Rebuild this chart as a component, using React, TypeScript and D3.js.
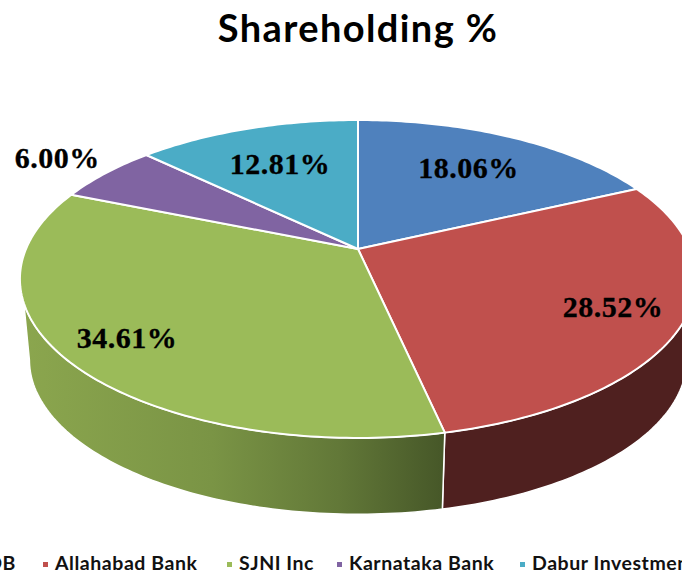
import React from "react";
import * as d3 from "d3";

const categories = ["IDB", "Allahabad Bank", "SJNI Inc", "Karnataka Bank", "Dabur Investments"];
const shares = [18.06, 28.52, 34.61, 6.0, 12.81];
const colors = ["#4f81bd", "#c0504d", "#9bbb59", "#8064a2", "#4bacc6"];
const labelRadii = [0.687, 0.8, 0.818, 1.217, 0.67];
const legendTextX = [16, 55, 239, 349, 532];

const W = 682, H = 571;
const CX = 358, CY = 249, A = 332, B = 153.3, K = 0.1887;
const DEPTH = 81.6, BOTTOM_SCALE = 0.972;

// Perspective projection of a unit disc; theta is clockwise from 12 o'clock.
function project(theta: number, r = 1, lower = false): [number, number] {
  const u = r * Math.sin(theta), v = -r * Math.cos(theta);
  const w = 1 - K * v;
  const s = lower ? BOTTOM_SCALE : 1;
  return [CX + (s * A * u) / w, CY + (lower ? DEPTH : 0) + (s * B * v) / w];
}

const arcs = d3.pie<number>().sort(null)(shares);
const line = d3.line();
const rad = (deg: number) => (deg * Math.PI) / 180;

function rim(a0: number, a1: number, lower = false): [number, number][] {
  const n = Math.max(2, Math.ceil(Math.abs(a1 - a0) / rad(1)));
  return d3.range(n + 1).map((i) => project(a0 + ((a1 - a0) * i) / n, 1, lower));
}

function wall(a0: number, a1Top: number, a1Low: number): string {
  return line([...rim(a0, a1Top), ...rim(a0, a1Low, true).reverse()])! + "Z";
}

const seam = arcs[1].endAngle;
const wallRed = wall(seam, rad(109), rad(101));
const wallGreen = wall(seam, rad(250.7), rad(259));

export default function App() {
  return (
    <svg
      width={W}
      height={H}
      viewBox={`0 0 ${W} ${H}`}
      style={{ position: "fixed", left: 0, top: 0, background: "#fff" }}
    >
      <defs>
        <linearGradient id="greenWall" gradientUnits="userSpaceOnUse" x1={22} x2={444} y1={0} y2={0}>
          <stop offset="0" stopColor="#8ba64e" />
          <stop offset="0.45" stopColor="#7a9445" />
          <stop offset="0.75" stopColor="#627838" />
          <stop offset="1" stopColor="#465728" />
        </linearGradient>
      </defs>
      <text
        x={358}
        y={42}
        textAnchor="middle"
        fontFamily="Lato, sans-serif"
        fontWeight={700}
        fontSize={38}
        letterSpacing={1.4}
        fill="#000"
      >
        Shareholding %
      </text>

      <path d={wallRed} fill="#4f201f" stroke="#fff" strokeWidth={1.5} />
      <path d={wallGreen} fill="url(#greenWall)" stroke="#fff" strokeWidth={1.5} />

      {arcs.map((a, i) => (
        <path
          key={categories[i]}
          d={line([[CX, CY], ...rim(a.startAngle, a.endAngle)])! + "Z"}
          fill={colors[i]}
          stroke="#fff"
          strokeWidth={2}
          strokeLinejoin="round"
        />
      ))}

      {arcs.map((a, i) => {
        const [x, y] = project((a.startAngle + a.endAngle) / 2, labelRadii[i]);
        return (
          <text
            key={categories[i]}
            x={x}
            y={y + 9.5}
            textAnchor="middle"
            fontFamily="'Liberation Serif', serif"
            fontWeight={700}
            fontSize={30}
            letterSpacing={0.5}
            stroke="#000"
            strokeWidth={0.3}
            fill="#000"
          >
            {shares[i].toFixed(2)}%
          </text>
        );
      })}

      {categories.map((c, i) => (
        <g key={c}>
          {i > 0 && <rect x={legendTextX[i] - 12} y={562} width={5} height={5} fill={colors[i]} />}
          <text
            x={legendTextX[i]}
            y={570}
            textAnchor={i === 0 ? "end" : "start"}
            fontFamily="Lato, sans-serif"
            fontWeight={700}
            fontSize={19.5}
            letterSpacing={0.55}
            fill="#111"
          >
            {c}
          </text>
        </g>
      ))}
    </svg>
  );
}
